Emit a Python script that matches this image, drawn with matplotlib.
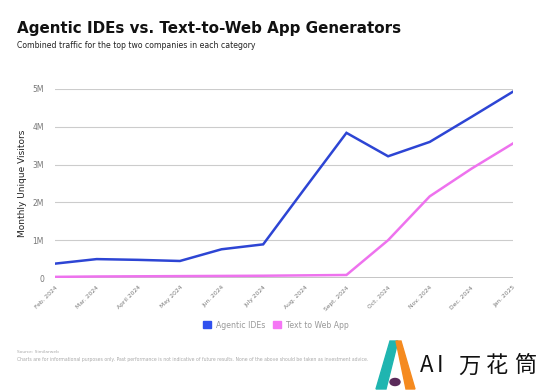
import numpy as np
import matplotlib
matplotlib.use('Agg')
import matplotlib.pyplot as plt
from matplotlib.patches import Patch, Polygon, Circle

months = ['Feb. 2024', 'Mar. 2024', 'April 2024', 'May 2024', 'Jun. 2024',
          'July 2024', 'Aug. 2024', 'Sept. 2024', 'Oct. 2024', 'Nov. 2024',
          'Dec. 2024', 'Jan. 2025']
agentic_ides = [0.38, 0.50, 0.48, 0.45, 0.76, 0.89, 2.37, 3.84, 3.22, 3.60, 4.26, 4.93]
text_to_web = [0.03, 0.04, 0.045, 0.05, 0.055, 0.06, 0.07, 0.08, 1.0, 2.16, 2.89, 3.56]
yticks = [0, 1, 2, 3, 4, 5]
ytick_labels = ['0', '1M', '2M', '3M', '4M', '5M']

blue = '#2d45d4'
pink = '#ee72ee'

fig = plt.figure(figsize=(5.54, 3.91), dpi=100)
W, H = 554, 391
ax = fig.add_axes([55 / W, 1 - 278 / H, (513 - 55) / W, (278 - 89) / H])

x = np.arange(len(months))
ax.plot(x, agentic_ides, color=blue, lw=1.8, solid_joinstyle='miter')
ax.plot(x, text_to_web, color=pink, lw=1.8, solid_joinstyle='miter')

ax.set_xlim(0, len(months) - 1)
ax.set_ylim(0, 5)
ax.set_yticks(yticks)
ax.set_yticklabels(ytick_labels)
ax.set_xticks(x)
ax.set_xticklabels(months, rotation=45, ha='right', rotation_mode='anchor')
ax.tick_params(axis='both', length=0, colors='#777777')
ax.tick_params(axis='y', pad=8, labelsize=5.5)
ax.tick_params(axis='x', pad=5, labelsize=4.3)
ax.grid(axis='y', color='#cccccc', lw=0.8)
ax.set_axisbelow(True)
for s in ax.spines.values():
    s.set_visible(False)
ax.axhline(0, color='#bbbbbb', lw=1.2, zorder=0.5)
ax.set_ylabel('Monthly Unique Visitors', fontsize=6.5, color='#222222', labelpad=4)

# titles
fig.text(17 / W, 1 - 29 / H, 'Agentic IDEs vs. Text-to-Web App Generators',
         fontsize=10.9, fontweight='heavy', family='DejaVu Sans', color='#111111',
         va='center', ha='left')
fig.text(17 / W, 1 - 45 / H, 'Combined traffic for the top two companies in each category',
         fontsize=5.6, color='#222222', va='center', ha='left')

# legend
handles = [Patch(color='#3050ee', label='Agentic IDEs'),
           Patch(color='#f575f5', label='Text to Web App')]
fig.legend(handles=handles, loc='center', bbox_to_anchor=(276 / W, 1 - 325 / H),
           ncol=2, frameon=False, fontsize=5.6, labelcolor='#999999',
           handlelength=1.0, handleheight=1.0, handletextpad=0.7, columnspacing=1.0)

# footnotes
fig.text(17 / W, 1 - 352 / H, 'Source: Similarweb', fontsize=3.2, color='#aaaaaa', va='center')
fig.text(17 / W, 1 - 360 / H,
         'Charts are for informational purposes only. Past performance is not indicative of future results. '
         'None of the above should be taken as investment advice.',
         fontsize=3.3, color='#aaaaaa', va='center')

# watermark
fig.patches.append(Polygon([(376 / W, 1 - 389 / H), (390 / W, 1 - 341 / H), (398 / W, 1 - 341 / H),
                            (386 / W, 1 - 389 / H)], closed=True, transform=fig.transFigure,
                           color='#1fb5b0'))
fig.patches.append(Polygon([(396 / W, 1 - 341 / H), (401 / W, 1 - 341 / H), (415 / W, 1 - 389 / H),
                            (406 / W, 1 - 389 / H)], closed=True, transform=fig.transFigure,
                           color='#f58a1f'))
fig.patches.append(Circle((395 / W, 1 - 382 / H), 5 / W, transform=fig.transFigure,
                          color='#5a2a5a'))
for i, ch in enumerate('AI万花筒'):
    xs = [420, 437, 458, 486, 514][i]
    fig.text(xs / W, 1 - 366 / H, ch, fontsize=16,
             family=['Noto Sans CJK SC', 'DejaVu Sans'], color='#111111', va='center', ha='left')

fig.savefig('out.png', dpi=100, facecolor='white')
